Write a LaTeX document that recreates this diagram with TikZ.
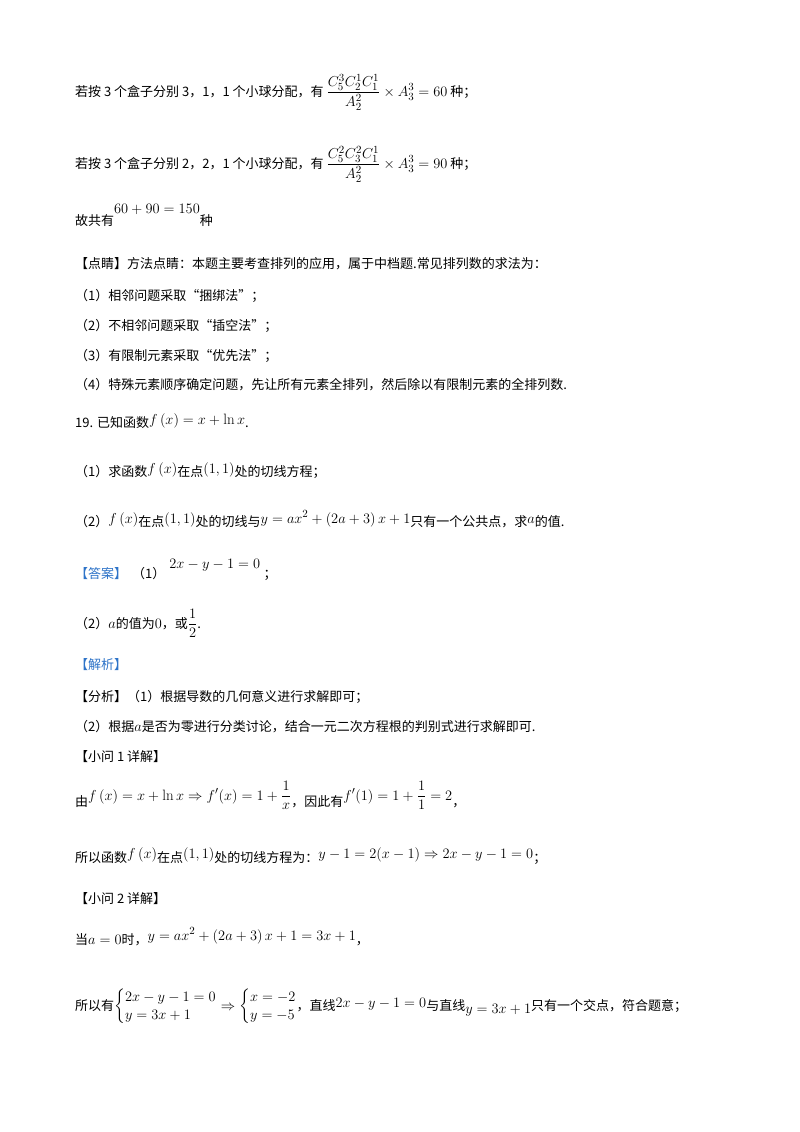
\documentclass[tikz,border=0pt]{standalone}
\usepackage{amsmath}
\usepackage{fontspec}
\newfontfamily\cjk{Noto Sans CJK SC}
\definecolor{ansblue}{RGB}{45,115,200}
\newcommand\mth[1]{{\fontsize{15}{18}\selectfont\(#1\)}}
\begin{document}
\begin{tikzpicture}[x=1pt,y=-1pt,
  txt/.style={anchor=base west,inner sep=0pt,font=\cjk\fontsize{13}{16}\selectfont},
  hd/.style={txt,text=ansblue}]
\useasboundingbox[fill=white] (0,0) rectangle (800,1132);
\node[txt] (l1) at (75,96) {若按 3 个盒子分别 3，1，1 个小球分配，有 \mth{\dfrac{C_5^3C_2^1C_1^1}{A_2^2}\times A_3^3=60} 种；};
\node[txt] (l2) at (75,168) {若按 3 个盒子分别 2，2，1 个小球分配，有 \mth{\dfrac{C_5^2C_3^2C_1^1}{A_2^2}\times A_3^3=90} 种；};
\node[txt] (l3) at (75,225) {故共有\raisebox{12pt}{\mth{60+90=150}}种};
\node[txt] (l4) at (75,268) {【点睛】方法点睛：本题主要考查排列的应用，属于中档题.常见排列数的求法为：};
\node[txt] (l5) at (75,300) {（1）相邻问题采取“捆绑法”；};
\node[txt] (l6) at (75,330) {（2）不相邻问题采取“插空法”；};
\node[txt] (l7) at (75,360) {（3）有限制元素采取“优先法”；};
\node[txt] (l8) at (75,389) {（4）特殊元素顺序确定问题，先让所有元素全排列，然后除以有限制元素的全排列数.};
\node[txt] (l9) at (75,427) {19. 已知函数\raisebox{3pt}{\mth{f\left(x\right)=x+\ln x}}.};
\node[txt] (l10) at (75,476) {（1）求函数\raisebox{3pt}{\mth{f\left(x\right)}}在点\raisebox{3pt}{\mth{\left(1,1\right)}}处的切线方程；};
\node[txt] (l11) at (75,526) {（2）\raisebox{3pt}{\mth{f\left(x\right)}}在点\raisebox{3pt}{\mth{\left(1,1\right)}}处的切线与\raisebox{3pt}{\mth{y=ax^2+\left(2a+3\right)x+1}}只有一个公共点，求\raisebox{3pt}{\mth{a}}的值.};
\node[hd] (l12) at (75,578) {【答案】};
\node[txt] (l12b) at (132,578) {（1）\raisebox{10pt}{\mth{\;2x-y-1=0}}\;；};
\node[txt] (l13) at (75,628) {（2）\mth{a}的值为\mth{0}，或\mth{\dfrac{1}{2}}.};
\node[hd] (l14) at (75,669) {【解析】};
\node[txt] (l15) at (75,701) {【分析】（1）根据导数的几何意义进行求解即可；};
\node[txt] (l16) at (75,731) {（2）根据\mth{a}是否为零进行分类讨论，结合一元二次方程根的判别式进行求解即可.};
\node[txt] (l17) at (75,761) {【小问 1 详解】};
\node[txt] (l18) at (75,806) {由\raisebox{6pt}{\mth{f\left(x\right)=x+\ln x\Rightarrow f'(x)=1+\dfrac{1}{x}}}，因此有\raisebox{6pt}{\mth{f'(1)=1+\dfrac{1}{1}=2}}，};
\node[txt] (l19) at (75,862) {所以函数\raisebox{4pt}{\mth{f\left(x\right)}}在点\raisebox{4pt}{\mth{\left(1,1\right)}}处的切线方程为：\raisebox{4pt}{\mth{y-1=2(x-1)\Rightarrow 2x-y-1=0}}；};
\node[txt] (l20) at (75,903) {【小问 2 详解】};
\node[txt] (l21) at (75,944) {当\mth{a=0}时，\raisebox{4pt}{\mth{y=ax^2+\left(2a+3\right)x+1=3x+1}}，};
\node[txt] (l22) at (75,1010) {所以有\mth{\left\{\begin{array}{@{}l@{}}2x-y-1=0\\ y=3x+1\end{array}\right.\Rightarrow\left\{\begin{array}{@{}l@{}}x=-2\\ y=-5\end{array}\right.}，直线\raisebox{3pt}{\mth{2x-y-1=0}}与直线\raisebox{-3pt}{\mth{y=3x+1}}只有一个交点，符合题意；};
\end{tikzpicture}
\end{document}
